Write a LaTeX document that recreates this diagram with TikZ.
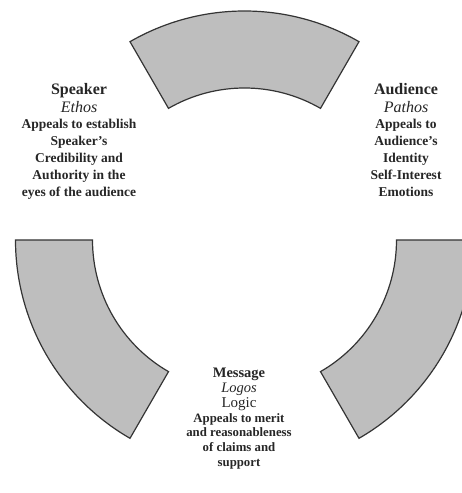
\documentclass[tikz,border=0pt]{standalone}
\usepackage{fontspec}
\setmainfont{Liberation Serif}
\usepackage{xcolor}
\usepackage{tikz}
\definecolor{bandgray}{RGB}{190,190,190}
\definecolor{banddark}{RGB}{52,52,52}

\begin{document}
\begin{tikzpicture}[x=1pt,y=1pt,
  every node/.style={inner sep=0pt,align=center,text=black!85},
  band/.style={fill=bandgray,draw=banddark,line width=1.2pt,line join=miter},
  appeal/.style={font=\fontsize{13.5}{16.8}\selectfont\bfseries,anchor=north}]
  \clip (0,0) rectangle (462,493);
  \coordinate (c) at (244.5,253);
  % ring pieces
  \foreach \a in {60,180,300}{
    \draw[band] ([shift={(\a:152pt)}]c) -- ([shift={(\a:229pt)}]c)
      arc[start angle=\a,delta angle=60,radius=229pt]
      -- ([shift={(\a+60:152pt)}]c)
      arc[start angle=\a+60,delta angle=-60,radius=152pt] -- cycle;
  }
  % the three appeals
  \node[appeal] (speaker) at (79,410) {{\fontsize{16}{19}\selectfont Speaker}\\[1pt]
    {\fontsize{16}{18}\selectfont\mdseries\itshape Ethos}\\
    Appeals to establish\\ Speaker's\\ Credibility and\\ Authority in the\\ eyes of the audience};
  \node[appeal] (audience) at (406,410) {{\fontsize{16}{19}\selectfont Audience}\\[1pt]
    {\fontsize{16}{18}\selectfont\mdseries\itshape Pathos}\\
    Appeals to\\ Audience's\\ Identity\\ Self-Interest\\ Emotions};
  \node[appeal,font=\fontsize{12.8}{14.8}\selectfont\bfseries] (message) at (239,125)
    {{\fontsize{14.5}{15}\selectfont Message}\\
    {\fontsize{14.5}{15}\selectfont\mdseries\itshape Logos}\\
    {\fontsize{15}{16}\selectfont\mdseries Logic}\\
    Appeals to merit\\ and reasonableness\\ of claims and\\ support};
\end{tikzpicture}
\end{document}
